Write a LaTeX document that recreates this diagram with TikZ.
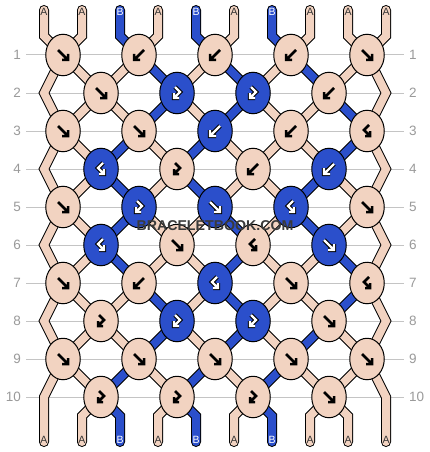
\documentclass[tikz,border=0pt]{standalone}
\usepackage{fontspec}
\setmainfont{Liberation Sans}
\usetikzlibrary{shapes.geometric}
\definecolor{colA}{HTML}{F2D3C1}
\definecolor{colB}{HTML}{2B4FCB}
\definecolor{gridc}{HTML}{C4C4C4}
\definecolor{labc}{HTML}{9A9A9A}
\definecolor{wmc}{HTML}{3A3A3A}
\pgfdeclarelayer{grid}
\pgfdeclarelayer{thr}
\pgfsetlayers{grid,thr,main}
\newcommand\seg[2]{%
  \ifnum\pass=0
    \draw[black,line width=10pt,line join=miter,line cap=round] #2;
  \else
    \draw[col#1,line width=8pt,line join=miter,line cap=round] #2;
  \fi}
\begin{document}
\begin{tikzpicture}[x=1pt,y=-1pt,
  knot/.style={ellipse,draw=black,line width=1pt,minimum width=34.5pt,minimum height=41.5pt,inner sep=0pt},
  rowlab/.style={text=labc,font=\fontsize{13.5}{14}\selectfont,inner sep=0pt},
  endlab/.style={font=\fontsize{10.5}{11}\selectfont,inner sep=0pt},
  wm/.style={font=\bfseries\fontsize{14.2}{15}\selectfont,inner sep=0pt}]
\useasboundingbox (0,0) rectangle (430,452);
\begin{pgfonlayer}{grid}
\fill[white] (0,0) rectangle (430,452);
\end{pgfonlayer}
% row lines and labels
\foreach \rw in {1,...,10}{
  \pgfmathsetmacro\yy{55+38*(\rw-1)}
  \begin{pgfonlayer}{grid}
  \draw[gridc,line width=1pt] (26,\yy) -- (404,\yy);
  \end{pgfonlayer}
  \node[rowlab,anchor=east] (ll\rw) at (21,\yy) {\rw};
  \node[rowlab,anchor=west] (rl\rw) at (409,\yy) {\rw};
}
% knots
\foreach \rw/\lst in {
  1/{A/1,A/2,A/2,A/2,A/1},
  2/{A/1,B/3,B/3,A/2},
  3/{A/1,A/1,B/2,A/2,A/4},
  4/{B/4,A/3,A/2,B/2},
  5/{A/1,B/3,B/1,B/4,A/1},
  6/{B/4,A/1,A/4,B/1},
  7/{A/1,A/2,B/4,A/1,A/4},
  8/{A/3,B/3,B/3,A/1},
  9/{A/1,A/1,A/1,A/1,A/1},
  10/{A/3,A/3,A/3,A/1}}{
  \pgfmathsetmacro\yy{55+38*(\rw-1)}
  \pgfmathtruncatemacro\odd{mod(\rw,2)}
  \foreach \cl/\ty [count=\kk] in \lst {
    \pgfmathsetmacro\xx{\odd==1 ? 63+76*(\kk-1) : 101+76*(\kk-1)}
    \node[knot,fill=col\cl] (k\rw-\kk) at (\xx,\yy) {};
    \ifcase\ty\or
      \def\gp{(-5,-5)--(5,5) (5,-1)--(5,5)--(-1,5)}\or
      \def\gp{(5,-5)--(-5,5) (-5,-1)--(-5,5)--(1,5)}\or
      \def\gp{(-2,-6)--(3,-1)--(-3,5) (-3,0)--(-3,5)--(2,5)}\or
      \def\gp{(2,-6)--(-3,-1)--(3,5) (3,0)--(3,5)--(-2,5)}\fi
    \if B\cl
      \draw[black,line width=4.4pt,line join=miter,shift={(\xx,\yy)}] \gp;
      \draw[white,line width=2.4pt,line join=miter,shift={(\xx,\yy)}] \gp;
    \else
      \draw[black,line width=2.5pt,line join=miter,shift={(\xx,\yy)}] \gp;
    \fi
  }
}
% connection points
\foreach \rw in {1,...,10}{
  \pgfmathsetmacro\yy{55+38*(\rw-1)}
  \pgfmathtruncatemacro\odd{mod(\rw,2)}
  \foreach \pp in {1,...,10}{
    \ifnum\odd=1
      \pgfmathtruncatemacro\kk{(\pp+1)/2}
      \coordinate (n-\rw-\pp) at (k\rw-\kk.center);
    \else
      \ifnum\pp=1 \coordinate (n-\rw-\pp) at (44,\yy);
      \else\ifnum\pp=10 \coordinate (n-\rw-\pp) at (386,\yy);
      \else
        \pgfmathtruncatemacro\kk{\pp/2}
        \coordinate (n-\rw-\pp) at (k\rw-\kk.center);
      \fi\fi
    \fi
  }
}
\foreach \pp in {1,...,10}{
  \pgfmathsetmacro\xx{44+38*(\pp-1)}
  \coordinate (t-\pp) at (\xx,10);
  \coordinate (tb-\pp) at (\xx,36);
  \coordinate (bb-\pp) at (\xx,416);
  \coordinate (b-\pp) at (\xx,442);
}
% threads
\begin{pgfonlayer}{thr}
\foreach \pass in {0,1}{
  % edge strings
  \seg{A}{(t-1)--(tb-1)--(n-1-1)--(n-2-1)--(n-3-1)--(n-4-1)--(n-5-1)--(n-6-1)--(n-7-1)--(n-8-1)--(n-9-1)--(n-10-1)--(bb-1)--(b-1)}
  \seg{A}{(t-10)--(tb-10)--(n-1-10)--(n-2-10)--(n-3-10)--(n-4-10)--(n-5-10)--(n-6-10)--(n-7-10)--(n-8-10)--(n-9-10)--(n-10-10)--(bb-10)--(b-10)}
  % top
  \foreach \cl [count=\pp] in {A,A,B,A,B,A,B,A,A,A}{
    \ifnum\pp>1\ifnum\pp<10 \seg{\cl}{(t-\pp)--(tb-\pp)--(n-1-\pp)}\fi\fi}
  % bottom
  \foreach \cl [count=\pp] in {A,A,B,A,B,A,B,A,A,A}{
    \ifnum\pp>1\ifnum\pp<10 \seg{\cl}{(n-10-\pp)--(bb-\pp)--(b-\pp)}\fi\fi}
  % between rows
  \foreach \rw/\lst in {
    1/{A,A,A,B,A,B,A,B,A,A},
    2/{A,A,A,B,A,B,A,A,B,A},
    3/{A,A,B,A,B,A,A,A,B,A},
    4/{A,A,B,A,B,A,A,B,A,A},
    5/{A,A,B,A,A,B,A,B,A,A},
    6/{A,A,B,A,A,B,A,A,B,A},
    7/{A,A,A,B,A,B,A,A,B,A},
    8/{A,A,A,B,A,B,A,B,A,A},
    9/{A,A,B,A,B,A,B,A,A,A}}{
    \pgfmathtruncatemacro\rn{\rw+1}
    \foreach \cl [count=\pp] in \lst {
      \ifnum\pp>1\ifnum\pp<10 \seg{\cl}{(n-\rw-\pp)--(n-\rn-\pp)}\fi\fi}
  }
}
\end{pgfonlayer}
% end labels
\foreach \cl [count=\pp] in {A,A,B,A,B,A,B,A,A,A}{
  \pgfmathsetmacro\xx{44+38*(\pp-1)}
  \if B\cl
    \node[endlab,text=white] (ta\pp) at (\xx,12) {B};
  \else
    \node[endlab,text=black!80] (ta\pp) at (\xx,12) {A};
  \fi
}
\foreach \cl [count=\pp] in {A,A,B,A,B,A,B,A,A,A}{
  \pgfmathsetmacro\xx{44+38*(\pp-1)}
  \if B\cl
    \node[endlab,text=white] (ba\pp) at (\xx,440) {B};
  \else
    \node[endlab,text=black!80] (ba\pp) at (\xx,440) {A};
  \fi
}
% watermark
\node[wm,text=wmc] (wm) at (215,226) {BRACELETBOOK.COM};
\end{tikzpicture}
\end{document}
